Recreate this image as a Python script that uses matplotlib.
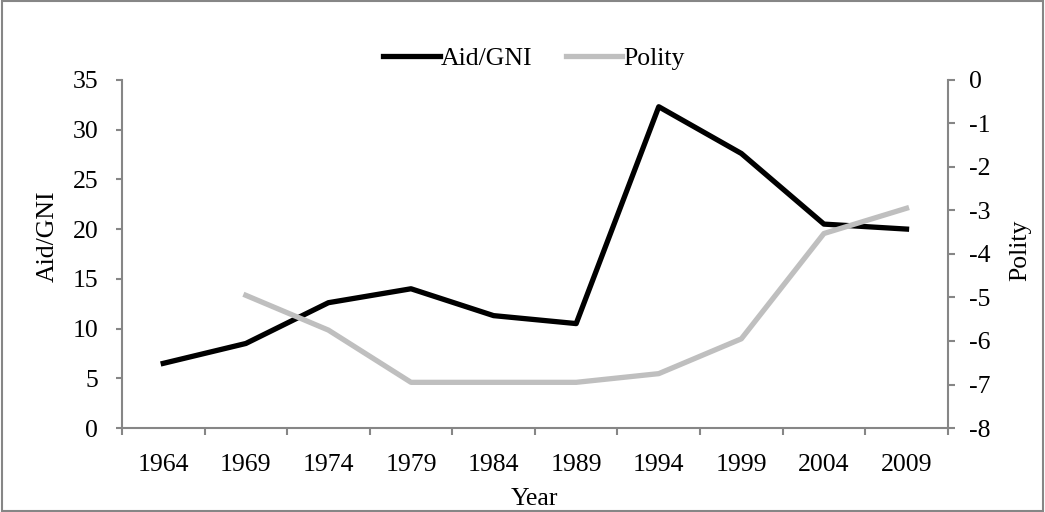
import matplotlib
matplotlib.use("Agg")
import matplotlib.pyplot as plt
import numpy as np

years = ['1964', '1969', '1974', '1979', '1984', '1989', '1994', '1999', '2004', '2009']
aid_gni = [6.5, 8.5, 12.6, 14.0, 11.3, 10.5, 32.3, 27.6, 20.5, 20.0]
polity = [np.nan, -4.95, -5.75, -6.95, -6.95, -6.95, -6.75, -5.95, -3.53, -2.95]

font_size = 18.5
plt.rcParams['font.family'] = ['Liberation Serif', 'DejaVu Serif']
plt.rcParams['axes.unicode_minus'] = False
axis_grey = '#868686'

fig = plt.figure(figsize=(10.45, 5.12), dpi=100)
ax = fig.add_axes([0.1167, 0.164, 0.7903, 0.68])
ax2 = ax.twinx()

x = np.arange(len(years))
l1, = ax.plot(x, aid_gni, color='black', linewidth=3.8, solid_joinstyle='round', label='Aid/GNI')
l2, = ax2.plot(x, polity, color='#BFBFBF', linewidth=3.8, solid_joinstyle='round', label='Polity')

# axis limits and ticks
ax.set_xlim(-0.5, len(years) - 0.5)
ax.set_ylim(0, 35)
ax.set_yticks(np.arange(0, 36, 5))
ax2.set_ylim(-8, 0)
ax2.set_yticks(np.arange(-8, 1, 1))

ax.set_xticks(np.arange(-0.5, len(years), 1))
ax.set_xticklabels([])
ax.set_xticks(x, minor=True)
ax.set_xticklabels(years, minor=True)
ax.tick_params(axis='x', which='minor', length=0, pad=18.5, labelsize=font_size)
ax.tick_params(axis='x', which='major', length=5, width=1.5, color=axis_grey, direction='out')
ax.tick_params(axis='y', length=4, width=1.5, color=axis_grey, labelsize=font_size, pad=13)
ax2.tick_params(axis='y', length=5, width=1.5, color=axis_grey, labelsize=font_size, pad=10)

for a in (ax, ax2):
    a.spines['top'].set_visible(False)
    for s in ('left', 'right', 'bottom'):
        a.spines[s].set_color(axis_grey)
        a.spines[s].set_linewidth(1.5)
ax.spines['right'].set_visible(False)
ax2.spines['left'].set_visible(False)
ax2.spines['bottom'].set_visible(False)

ax.set_ylabel('Aid/GNI', fontsize=font_size)
ax.yaxis.set_label_coords(-0.076, 0.552)
ax2.set_ylabel('Polity', fontsize=font_size, rotation=90)
ax2.yaxis.set_label_coords(1.074, 0.511)
ax.set_xlabel('Year', fontsize=font_size, labelpad=9)

fig.legend(handles=[l1, l2], loc='center', bbox_to_anchor=(0.511, 0.886), ncol=2,
           frameon=False, fontsize=font_size, handlelength=2.2, handletextpad=0.05,
           columnspacing=1.3)

# chart area border
fig.patches.append(matplotlib.patches.Rectangle((0.002, 0.002), 0.996, 0.996, transform=fig.transFigure,
                                                 fill=False, edgecolor=axis_grey, linewidth=1.5))

fig.savefig("out.png", dpi=100)
